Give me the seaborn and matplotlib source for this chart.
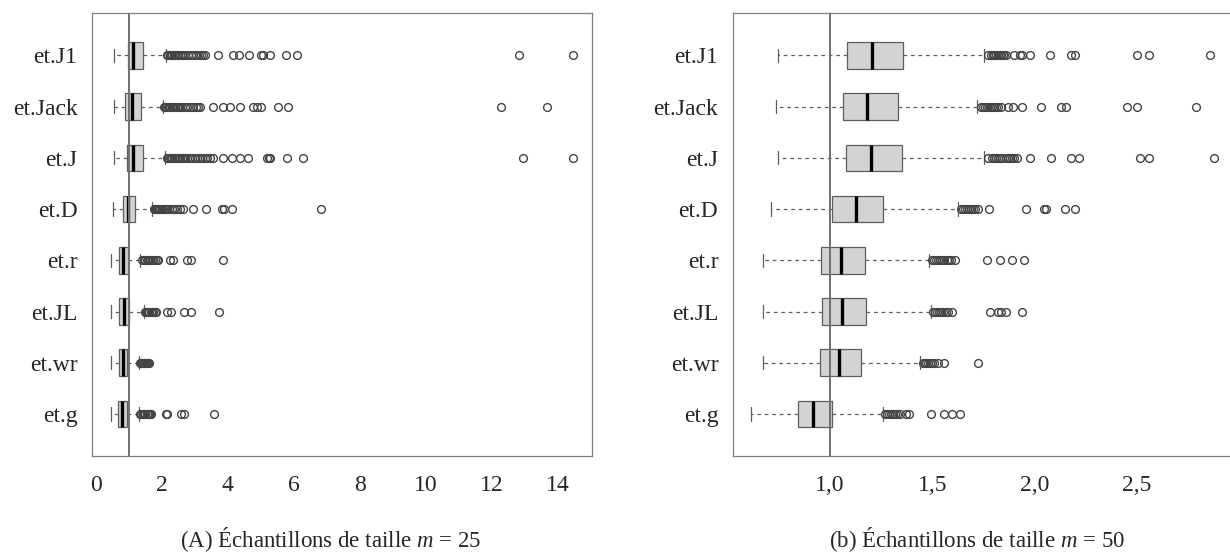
"""
Boxplots of the ratio estimators for two sample sizes (m = 25 and m = 50).
Each box is rebuilt from its five-number summary plus the outliers read
off the original figure.
"""

import numpy as np
import pandas as pd
import matplotlib
matplotlib.use("Agg")
import matplotlib.pyplot as plt
import seaborn as sns

# ---------------------------------------------------------------------------
# Data
# ---------------------------------------------------------------------------
ESTIMATORS = ["et.J1", "et.Jack", "et.J", "et.D", "et.r", "et.JL", "et.wr", "et.g"]

# (A) m = 25
A_LOW = [0.56, 0.56, 0.56, 0.52, 0.45, 0.45, 0.45, 0.45]
A_Q1 = [0.97, 0.90, 0.95, 0.82, 0.72, 0.72, 0.71, 0.69]
A_MED = [1.14, 1.11, 1.14, 0.99, 0.84, 0.86, 0.82, 0.80]
A_Q3 = [1.44, 1.36, 1.42, 1.19, 0.97, 1.02, 0.96, 0.94]
A_HIGH = [2.12, 2.03, 2.10, 1.72, 1.33, 1.45, 1.32, 1.30]
A_OUTLIERS = [
    [2.16, 2.20, 2.24, 2.28, 2.32, 2.36, 2.40, 2.45, 2.50, 2.55, 2.60, 2.66,
     2.72, 2.80, 2.88, 2.95, 3.05, 3.12, 3.20, 3.24, 3.30, 3.71, 4.17, 4.33,
     4.63, 5.01, 5.08, 5.28, 5.77, 6.10, 12.81, 14.47],
    [2.07, 2.10, 2.14, 2.18, 2.22, 2.26, 2.30, 2.35, 2.40, 2.45, 2.50, 2.56,
     2.62, 2.70, 2.78, 2.86, 2.95, 3.03, 3.10, 3.16, 3.55, 3.85, 4.07, 4.37,
     4.76, 4.88, 5.00, 5.52, 5.81, 12.27, 13.68],
    [2.17, 2.20, 2.24, 2.28, 2.32, 2.36, 2.40, 2.45, 2.50, 2.55, 2.60, 2.66,
     2.72, 2.78, 2.85, 2.92, 3.00, 3.08, 3.15, 3.22, 3.30, 3.38, 3.45, 3.55,
     3.87, 4.12, 4.37, 4.62, 5.18, 5.24, 5.28, 5.79, 6.29, 12.93, 14.47],
    [1.76, 1.79, 1.82, 1.85, 1.88, 1.92, 1.96, 2.00, 2.05, 2.10, 2.16, 2.22,
     2.30, 2.38, 2.46, 2.55, 2.64, 2.96, 3.34, 3.82, 3.90, 4.14, 6.82],
    [1.40, 1.45, 1.50, 1.54, 1.58, 1.62, 1.66, 1.70, 1.75, 1.80, 1.85, 1.88,
     2.25, 2.33, 2.76, 2.88, 3.85],
    [1.49, 1.52, 1.55, 1.59, 1.63, 1.67, 1.71, 1.75, 1.79, 1.83,
     2.15, 2.27, 2.69, 2.88, 3.74],
    [1.35, 1.38, 1.41, 1.44, 1.47, 1.50, 1.53, 1.56, 1.59, 1.61],
    [1.34, 1.38, 1.42, 1.46, 1.50, 1.54, 1.58, 1.62, 1.66, 1.68,
     2.12, 2.17, 2.58, 2.69, 3.58],
]

# (b) m = 50
B_LOW = [0.748, 0.735, 0.746, 0.710, 0.675, 0.675, 0.671, 0.617]
B_Q1 = [1.085, 1.064, 1.077, 1.012, 0.956, 0.960, 0.950, 0.844]
B_MED = [1.207, 1.183, 1.202, 1.129, 1.056, 1.058, 1.043, 0.916]
B_Q3 = [1.359, 1.332, 1.354, 1.259, 1.170, 1.176, 1.150, 1.012]
B_HIGH = [1.755, 1.720, 1.752, 1.625, 1.484, 1.492, 1.440, 1.260]
B_OUTLIERS = [
    [1.775, 1.785, 1.795, 1.800, 1.810, 1.820, 1.830, 1.835, 1.845, 1.850,
     1.860, 1.900, 1.930, 1.940, 1.977, 2.075, 2.180, 2.200, 2.500, 2.560, 2.855],
    [1.740, 1.750, 1.760, 1.770, 1.780, 1.790, 1.800, 1.810, 1.820, 1.834,
     1.870, 1.896, 1.940, 2.030, 2.130, 2.155, 2.450, 2.500, 2.790],
    [1.775, 1.790, 1.800, 1.810, 1.820, 1.830, 1.842, 1.860, 1.870, 1.880,
     1.890, 1.900, 1.915, 1.977, 2.080, 2.176, 2.217, 2.514, 2.560, 2.879],
    [1.640, 1.650, 1.660, 1.670, 1.680, 1.690, 1.700, 1.710, 1.725, 1.777,
     1.956, 2.045, 2.055, 2.148, 2.200],
    [1.500, 1.510, 1.520, 1.530, 1.540, 1.550, 1.560, 1.570, 1.580, 1.590,
     1.610, 1.766, 1.830, 1.890, 1.948],
    [1.505, 1.515, 1.525, 1.535, 1.545, 1.555, 1.565, 1.575, 1.595,
     1.780, 1.820, 1.835, 1.863, 1.940],
    [1.455, 1.465, 1.470, 1.480, 1.490, 1.500, 1.510, 1.530, 1.560, 1.725],
    [1.270, 1.280, 1.290, 1.300, 1.310, 1.320, 1.330, 1.345, 1.370, 1.385,
     1.492, 1.557, 1.598, 1.635],
]

A_XTICKS = [0, 2, 4, 6, 8, 10, 12, 14]
A_XTICKLABELS = ["0", "2", "4", "6", "8", "10", "12", "14"]
B_XTICKS = [1.0, 1.5, 2.0, 2.5]
B_XTICKLABELS = ["1,0", "1,5", "2,0", "2,5"]

REF_VALUE = 1.0
CAPTIONS = [r"(A) Échantillons de taille $m$ = 25",
            r"(b) Échantillons de taille $m$ = 50"]

# ---------------------------------------------------------------------------
# Style
# ---------------------------------------------------------------------------
sns.set_style("white")
plt.rcParams["font.family"] = ["Liberation Serif", "DejaVu Serif"]
plt.rcParams["mathtext.fontset"] = "custom"
plt.rcParams["mathtext.it"] = "Liberation Serif:italic"
plt.rcParams["mathtext.rm"] = "Liberation Serif"

TICK_FONT = 17
CAPTION_FONT = 16.5
SPINE_COLOR = "#7f7f7f"
LINE_COLOR = "#5e5e5e"
REP = 200  # weight of each quartile in the rebuilt sample


def rebuild_sample(low, q1, med, q3, high, outliers):
    """Long frame whose boxplot stats reproduce the given summaries."""
    rows = []
    for name, lo, a, m, b, hi, out in zip(ESTIMATORS, low, q1, med, q3, high, outliers):
        vals = np.concatenate([np.repeat([lo, a, m, b, hi], [1, REP, REP, REP, 1]),
                               np.asarray(out, dtype=float)])
        rows.append(pd.DataFrame({"estimator": name, "value": vals}))
    return pd.concat(rows, ignore_index=True)


def draw_panel(ax, df, xticks, xticklabels):
    sns.boxplot(data=df, x="value", y="estimator", order=ESTIMATORS, orient="h",
                width=0.52, color="#d3d3d3", saturation=1, linecolor=LINE_COLOR,
                linewidth=0.9, whis=1.5, ax=ax,
                whiskerprops=dict(linestyle=(0, (3, 3)), color=LINE_COLOR),
                capprops=dict(color=LINE_COLOR),
                medianprops=dict(color="black", linewidth=2.4),
                flierprops=dict(marker="o", markerfacecolor="none",
                                markeredgecolor="#444444", markeredgewidth=1.0,
                                markersize=5.6))
    ax.axvline(REF_VALUE, color="#707070", linewidth=1.4, zorder=5)

    # R-like 4 % padding around the data range
    lo, hi = df["value"].min(), df["value"].max()
    pad = 0.04 * (hi - lo)
    ax.set_xlim(lo - pad, hi + pad)
    n = len(ESTIMATORS)
    ax.set_ylim(n - 1 + 0.82, -0.82)

    ax.set_xticks(xticks)
    ax.set_xticklabels(xticklabels, fontsize=TICK_FONT)
    ax.set_yticks(range(n))
    ax.set_yticklabels(ESTIMATORS, fontsize=TICK_FONT)
    ax.set_xlabel("")
    ax.set_ylabel("")
    ax.tick_params(axis="x", length=7.5, width=0.9, color=SPINE_COLOR, pad=6)
    ax.tick_params(axis="y", length=9, width=0.9, color=SPINE_COLOR, pad=1.5)
    for sp in ax.spines.values():
        sp.set_visible(True)
        sp.set_color(SPINE_COLOR)
        sp.set_linewidth(0.9)


# ---------------------------------------------------------------------------
# Plot
# ---------------------------------------------------------------------------
fig = plt.figure(figsize=(12.3, 5.54), dpi=100)
ax_a = fig.add_axes([0.0748, 0.1769, 0.4065, 0.799])
ax_b = fig.add_axes([0.5959, 0.1769, 0.4065, 0.799])

draw_panel(ax_a, rebuild_sample(A_LOW, A_Q1, A_MED, A_Q3, A_HIGH, A_OUTLIERS),
           A_XTICKS, A_XTICKLABELS)
draw_panel(ax_b, rebuild_sample(B_LOW, B_Q1, B_MED, B_Q3, B_HIGH, B_OUTLIERS),
           B_XTICKS, B_XTICKLABELS)

fig.text(0.269, 0.0253, CAPTIONS[0], ha="center", va="center", fontsize=CAPTION_FONT)
fig.text(0.794, 0.0253, CAPTIONS[1], ha="center", va="center", fontsize=CAPTION_FONT)

fig.savefig("out.png", dpi=100)
